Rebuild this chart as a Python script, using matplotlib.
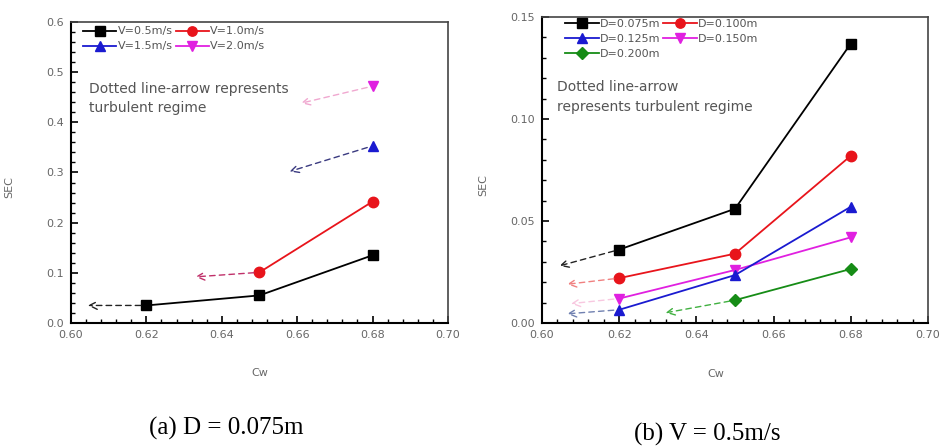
import numpy as np
import matplotlib
matplotlib.use('Agg')
import matplotlib.pyplot as plt
from matplotlib.ticker import MultipleLocator

# ---- data (a) D = 0.075m, SEC vs Cw for several velocities
labels_a = ['V=0.5m/s', 'V=1.0m/s', 'V=1.5m/s', 'V=2.0m/s']
cw_a = [[0.62, 0.65, 0.68], [0.65, 0.68], [0.68], [0.68]]
sec_a = [[0.035, 0.055, 0.135], [0.101, 0.242], [0.353], [0.472]]
# dashed arrows (turbulent regime): start (cw, sec) -> end (cw, sec)
arr_a_start = [(0.62, 0.035), (0.65, 0.101), (0.68, 0.353), (0.68, 0.472)]
arr_a_end = [(0.6045, 0.035), (0.633, 0.092), (0.658, 0.302), (0.661, 0.438)]

# ---- data (b) V = 0.5m/s, SEC vs Cw for several diameters
labels_b = ['D=0.075m', 'D=0.100m', 'D=0.125m', 'D=0.150m', 'D=0.200m']
cw_b = [[0.62, 0.65, 0.68], [0.62, 0.65, 0.68], [0.62, 0.65, 0.68],
        [0.62, 0.65, 0.68], [0.65, 0.68]]
sec_b = [[0.036, 0.056, 0.137], [0.022, 0.034, 0.082], [0.0065, 0.0235, 0.057],
         [0.012, 0.026, 0.042], [0.0112, 0.0265]]
arr_b_start = [(0.62, 0.036), (0.62, 0.022), (0.62, 0.0065), (0.62, 0.012), (0.65, 0.0112)]
arr_b_end = [(0.6045, 0.028), (0.6065, 0.019), (0.6065, 0.0045), (0.6075, 0.0095), (0.632, 0.005)]

colors = ['black', '#e8141b', '#1a1ad0', '#e020e0', '#168c16']
markers = ['s', 'o', '^', 'v', 'D']
zorders = [3, 3, 4, 3, 3]
arrow_cols_a = ['#222222', '#c0306a', '#3a3a80', '#f0a8d0']
arrow_cols_b = ['#222222', '#f08080', '#7080b0', '#f8c8e0', '#40b040']

tick_col = '#666666'

fig = plt.figure(figsize=(9.46, 4.48), dpi=100)
ax_a = fig.add_axes([0.075, 0.279, 0.3985, 0.672])
ax_b = fig.add_axes([0.573, 0.279, 0.408, 0.683])


def style_axes(ax, ymax, ymajor, yminor, fmt, xlab_x, ylab_x):
    ax.set_xlim(0.60, 0.70)
    ax.set_ylim(0, ymax)
    ax.xaxis.set_major_locator(MultipleLocator(0.02))
    ax.xaxis.set_minor_locator(MultipleLocator(0.004))
    ax.yaxis.set_major_locator(MultipleLocator(ymajor))
    ax.yaxis.set_minor_locator(MultipleLocator(yminor))
    ax.xaxis.set_major_formatter(plt.FormatStrFormatter('%.2f'))
    ax.yaxis.set_major_formatter(plt.FormatStrFormatter(fmt))
    ax.tick_params(which='both', direction='in', top=False, right=False,
                   labelsize=8, labelcolor=tick_col, color='black')
    ax.tick_params(which='major', length=5, width=1.2, pad=5)
    ax.tick_params(which='minor', length=3, width=1.0)
    for s in ['bottom', 'left']:
        ax.spines[s].set_linewidth(1.5)
    for s in ['top', 'right']:
        ax.spines[s].set_linewidth(1.2)
        ax.spines[s].set_color('#444444')
    ax.set_xlabel('Cw', fontsize=8, color=tick_col)
    ax.set_ylabel('SEC', fontsize=8, color=tick_col)
    ax.xaxis.set_label_coords(xlab_x, -0.15)
    ax.yaxis.set_label_coords(ylab_x, 0.45)


def draw_arrows(ax, starts, ends, cols):
    for (x0, y0), (x1, y1), c in zip(starts, ends, cols):
        ax.annotate('', xy=(x1, y1), xytext=(x0, y0),
                    arrowprops=dict(arrowstyle='->', linestyle=(0, (4, 3)),
                                    color=c, lw=1.0, mutation_scale=14,
                                    shrinkA=4, shrinkB=0))


leg_kw = dict(fontsize=8, frameon=False, handlelength=3.0, columnspacing=0.3,
              handletextpad=0.1, labelspacing=0.45, borderpad=0,
              borderaxespad=0, labelcolor='#555555', markerscale=0.9)

# (a)
lines_a = []
for k in range(len(labels_a)):
    ln, = ax_a.plot(cw_a[k], sec_a[k], color=colors[k], marker=markers[k],
                    markersize=7.5, lw=1.3, label=labels_a[k], zorder=zorders[k])
    lines_a.append(ln)
draw_arrows(ax_a, arr_a_start, arr_a_end, arrow_cols_a)
style_axes(ax_a, 0.6, 0.1, 0.02, '%.1f', 0.5, -0.15)
order_a = [0, 2, 1, 3]  # row-wise fill
ax_a.legend([lines_a[i] for i in order_a], [labels_a[i] for i in order_a],
            loc='upper left', bbox_to_anchor=(0.032, 0.985), ncol=2, **leg_kw)
ax_a.text(0.048, 0.80, 'Dotted line-arrow represents\nturbulent regime',
          transform=ax_a.transAxes, fontsize=10, color='#555555',
          va='top', linespacing=1.45)

# (b)
lines_b = []
for k in range(len(labels_b)):
    ln, = ax_b.plot(cw_b[k], sec_b[k], color=colors[k], marker=markers[k],
                    markersize=7.5 if markers[k] != 'D' else 6.5, lw=1.3,
                    label=labels_b[k], zorder=zorders[k])
    lines_b.append(ln)
draw_arrows(ax_b, arr_b_start, arr_b_end, arrow_cols_b)
style_axes(ax_b, 0.15, 0.05, 0.01, '%.2f', 0.45, -0.14)
order_b = [0, 2, 4, 1, 3]
ax_b.legend([lines_b[i] for i in order_b], [labels_b[i] for i in order_b],
            loc='upper left', bbox_to_anchor=(0.06, 0.995), ncol=2, **leg_kw)
ax_b.text(0.04, 0.795, 'Dotted line-arrow\nrepresents turbulent regime',
          transform=ax_b.transAxes, fontsize=10, color='#555555',
          va='top', linespacing=1.6)

# captions
fig.text(226 / 946, 1 - 428 / 448, '(a) D = 0.075m', family='Liberation Serif',
         fontsize=18, ha='center', va='center')
fig.text(707 / 946, 1 - 434 / 448, '(b) V = 0.5m/s', family='Liberation Serif',
         fontsize=18, ha='center', va='center')

fig.savefig('out.png', dpi=100)
